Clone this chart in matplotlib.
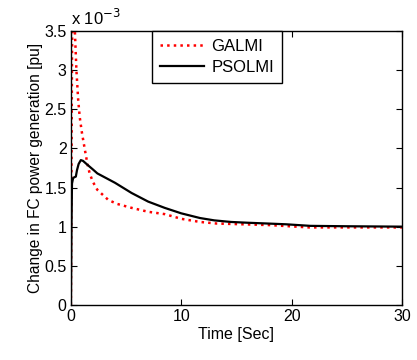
import matplotlib
matplotlib.use("Agg")
import matplotlib.pyplot as plt

plt.rcParams['font.family'] = ['Liberation Sans', 'DejaVu Sans']

# Data (values in units of 1e-3 pu)
t_galmi = [0, 0.05, 0.1, 0.15, 0.25, 0.36, 0.5, 0.66, 0.8, 1.0, 1.27, 1.5, 1.7, 2.0,
           2.4, 3.4, 4.2, 5.5, 7.0, 8.5, 10.0, 11.7, 13.2, 15.6, 18, 21.6, 25, 30]
v_galmi = [0, 1.6, 3.2, 4.0, 3.9, 3.5, 3.0, 2.62, 2.4, 2.2, 1.98, 1.80, 1.68, 1.57,
           1.47, 1.34, 1.29, 1.24, 1.19, 1.16, 1.10, 1.06, 1.04, 1.03, 1.02, 0.99, 0.99, 0.99]

t_pso = [0, 0.05, 0.1, 0.2, 0.3, 0.45, 0.55, 0.7, 0.9, 1.1, 1.5, 2.0, 2.4, 3.2, 4.0, 5.5,
         7.0, 8.5, 10.0, 11.7, 13.0, 14.5, 16, 17.8, 19.5, 21.7, 25, 30]
v_pso = [0, 1.0, 1.55, 1.62, 1.63, 1.64, 1.72, 1.80, 1.85, 1.84, 1.79, 1.73, 1.68, 1.62, 1.56, 1.43,
         1.32, 1.24, 1.17, 1.11, 1.08, 1.06, 1.05, 1.04, 1.03, 1.01, 1.005, 1.0]

xticks = [0, 10, 20, 30]
yticks = [0, 0.5, 1, 1.5, 2, 2.5, 3, 3.5]
ytick_labels = ["0", "0.5", "1", "1.5", "2", "2.5", "3", "3.5"]

fig = plt.figure(figsize=(4.17, 3.6), dpi=100)
ax = fig.add_axes([0.170, 0.153, 0.794, 0.761])

ax.plot(t_galmi, v_galmi, color='red', linestyle=':', linewidth=1.8, label='GALMI')
ax.plot(t_pso, v_pso, color='black', linestyle='-', linewidth=1.6, label='PSOLMI')

ax.set_xlim(0, 30)
ax.set_ylim(0, 3.5)
ax.set_xticks(xticks)
ax.set_yticks(yticks)
ax.set_yticklabels(ytick_labels)
ax.tick_params(direction='in', top=True, right=True, labelsize=11.5, length=4, width=0.8, pad=3)
for s in ax.spines.values():
    s.set_linewidth(1.0)

ax.set_xlabel('Time [Sec]', fontsize=11.5, labelpad=2)
ax.set_ylabel('Change in FC power generation [pu]', fontsize=11.2, labelpad=1)
ax.text(0, 1.012, r'x 10$^{-3}$', transform=ax.transAxes, fontsize=12, ha='left', va='bottom')

leg = ax.legend(loc='upper left', bbox_to_anchor=(0.245, 1.0), borderaxespad=0,
                fancybox=False, edgecolor='black', framealpha=1, fontsize=12,
                handlelength=2.6, handletextpad=0.45, borderpad=0.5, labelspacing=0.35)
leg.get_frame().set_linewidth(1.0)

fig.savefig('out.png', dpi=100)
